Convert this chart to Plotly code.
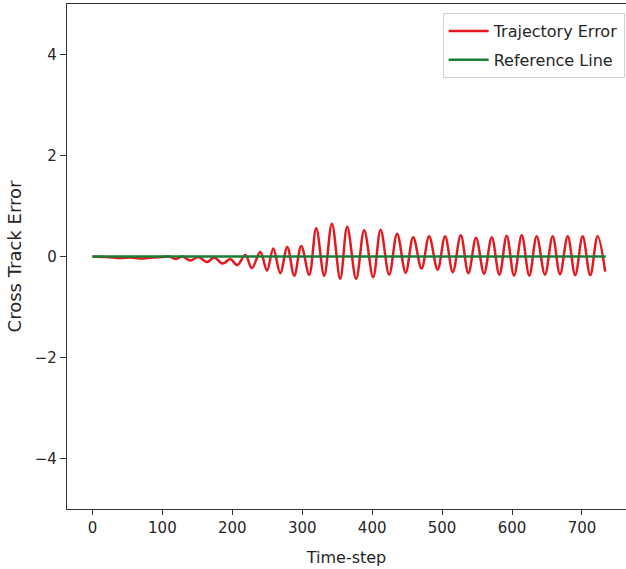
import plotly.graph_objects as go

# Cross-track error samples (time-step, error) at the turning points of the response
t_samples = [
    0, 20, 40, 55, 70, 85, 100, 110, 118.6, 128.6, 140, 151, 163.9, 174,
    186.4, 197, 207, 218.6, 228, 240, 249.6, 258.6, 268.6, 278.6, 288.6,
    298.6, 310, 320.0, 331.4, 342.4, 354.3, 364.3, 377.1, 388.6, 401.4,
    412.1, 424.3, 435.7, 447.9, 458.6, 470.7, 481.4, 493.6, 504.3, 515.3,
    526.7, 537.6, 548.6, 560.0, 571.0, 581.9, 592.4, 602.9, 613.9, 624.7,
    635.3, 647.1, 658.1, 668.6, 679.6, 690.4, 701.0, 711.9, 722.4, 733.3,
]
cte_samples = [
    0.0, -0.01, -0.03, -0.02, -0.04, -0.02, -0.01, 0.0, -0.05, 0.0, -0.08,
    -0.01, -0.11, -0.02, -0.14, -0.05, -0.17, 0.03, -0.23, 0.09, -0.28,
    0.16, -0.33, 0.19, -0.38, 0.21, -0.36, 0.56, -0.38, 0.65, -0.44, 0.59,
    -0.44, 0.52, -0.41, 0.53, -0.36, 0.45, -0.32, 0.38, -0.24, 0.40, -0.26,
    0.40, -0.31, 0.42, -0.33, 0.37, -0.34, 0.38, -0.36, 0.41, -0.38, 0.42,
    -0.38, 0.40, -0.36, 0.40, -0.35, 0.40, -0.37, 0.40, -0.37, 0.40, -0.30,
]

# Zero reference
ref_t = [0, 734]
ref_v = [0, 0]

x_ticks = [0, 100, 200, 300, 400, 500, 600, 700]
y_ticks = [-4, -2, 0, 2, 4]

FONT = "DejaVu Sans"
TXT = "#262626"

fig = go.Figure()
fig.add_trace(go.Scatter(
    x=t_samples, y=cte_samples, mode="lines", name="Trajectory Error",
    legendgroup="err",
    line=dict(color="#e3191e", width=2.5, shape="spline", smoothing=1.0),
))
fig.add_trace(go.Scatter(
    x=ref_t, y=ref_v, mode="lines", name="Reference Line",
    legendgroup="ref",
    line=dict(color="#1a7d36", width=2.4),
))

fig.update_layout(
    width=626, height=569,
    margin=dict(l=67, r=0, t=4, b=60),
    paper_bgcolor="white", plot_bgcolor="white",
    font=dict(family=FONT, size=15, color=TXT),
    showlegend=True,
    legend=dict(
        x=0.672, y=0.982, xanchor="left", yanchor="top",
        bgcolor="rgba(255,255,255,0.85)", bordercolor="#d0d0d0", borderwidth=1,
        font=dict(family=FONT, size=16, color=TXT),
        tracegroupgap=5, itemwidth=40,
    ),
    xaxis=dict(
        range=[-36.4, 763], tickvals=x_ticks, showgrid=False, zeroline=False,
        showline=True, linecolor="#333", linewidth=1.2, mirror=True,
        ticks="outside", ticklen=5, tickcolor="#333",
        tickfont=dict(family=FONT, size=15, color=TXT),
        title=dict(text="Time-step", font=dict(family=FONT, size=16, color=TXT), standoff=15),
    ),
    yaxis=dict(
        range=[-5, 5], tickvals=y_ticks, showgrid=False, zeroline=False,
        showline=True, linecolor="#333", linewidth=1.2,
        ticks="outside", ticklen=6, tickcolor="#333",
        tickfont=dict(family=FONT, size=15, color=TXT),
        title=dict(text="Cross Track Error", font=dict(family=FONT, size=18, color=TXT), standoff=8),
    ),
)

fig.write_html("out.html")
